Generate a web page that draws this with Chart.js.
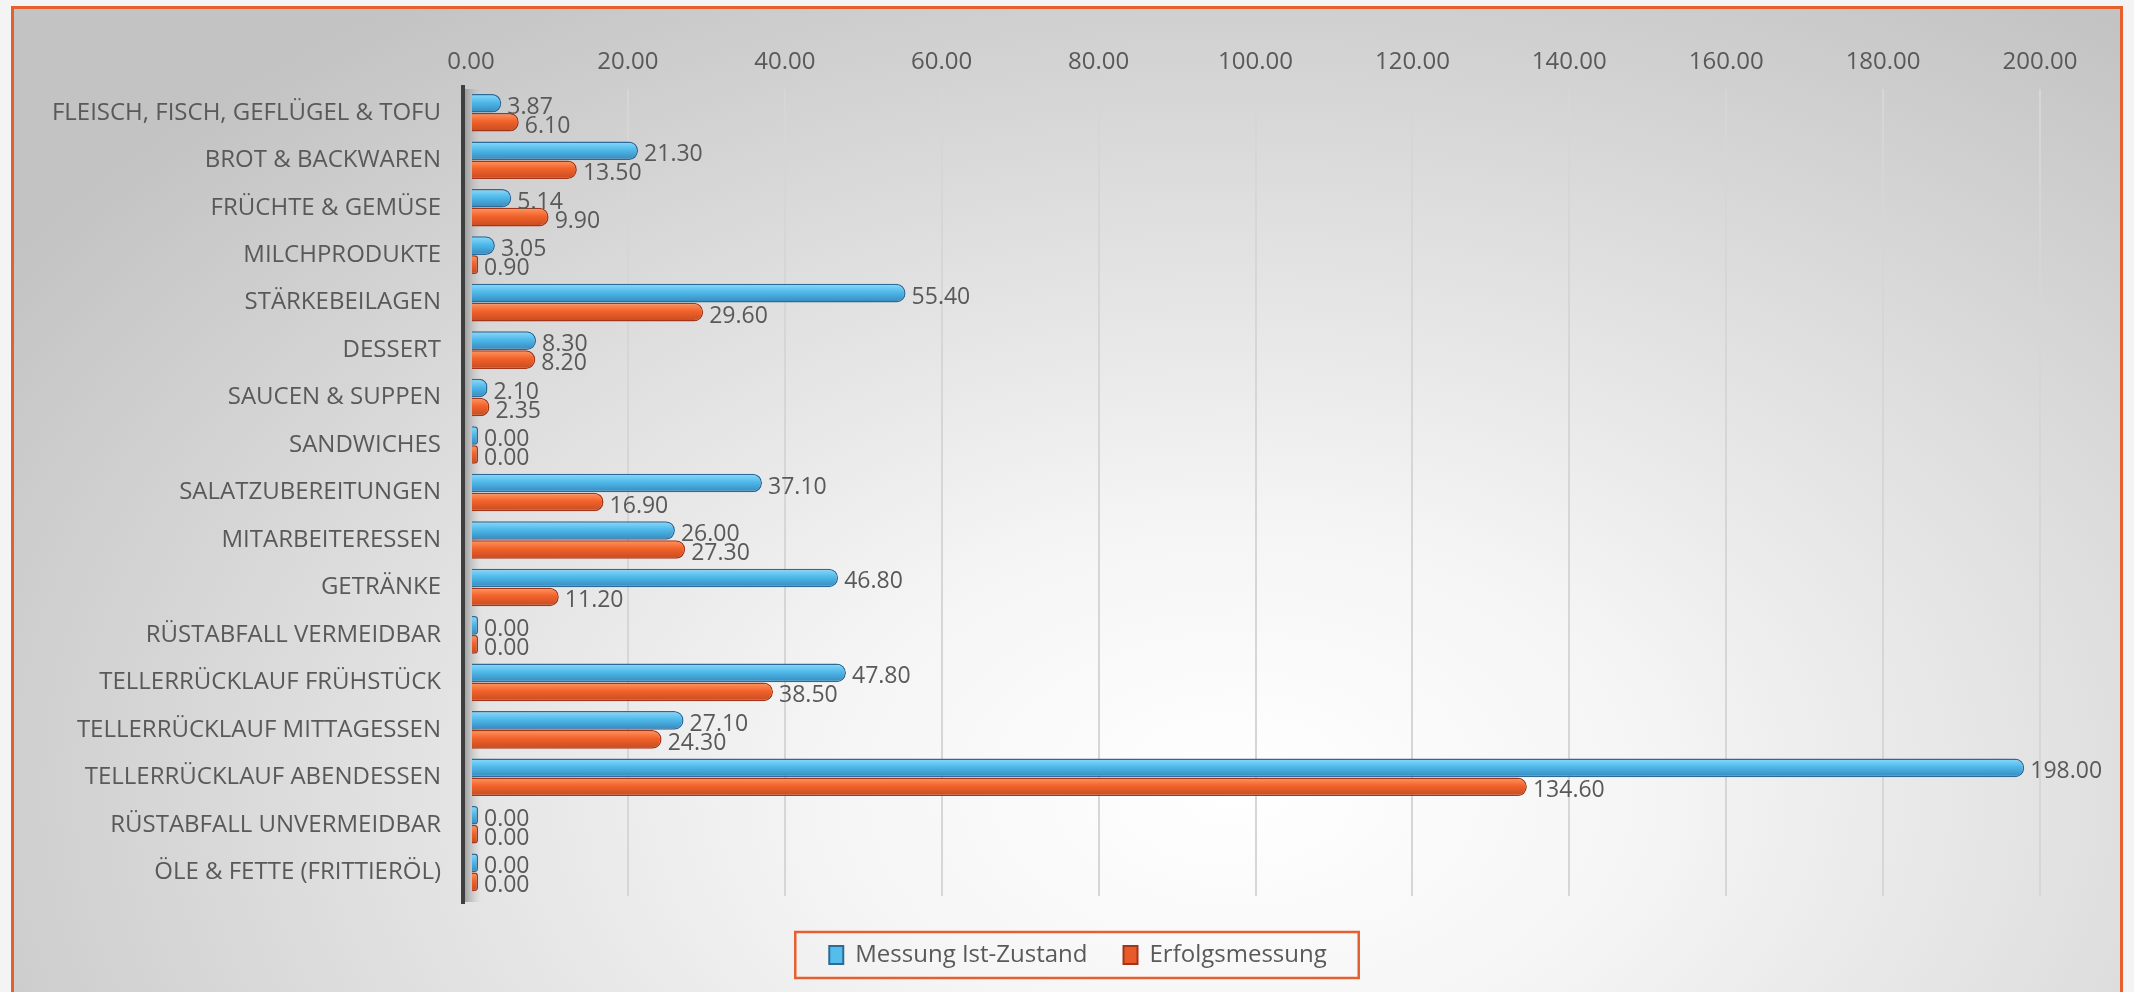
<!DOCTYPE html>
<html lang="de">
<head>
  <meta charset="UTF-8" />
  <title>Messung Ist-Zustand vs. Erfolgsmessung</title>
  <script src="https://cdn.jsdelivr.net/npm/chart.js"></script>
  <style>
    html, body {
      margin: 0;
      padding: 0;
      background: #f4f4f4;
      overflow: hidden;
    }
    #frame {
      position: absolute;
      left: 11px;
      top: 6px;
      width: 2106px;
      height: 1000px;
      border: 3px solid #e5602e;
      background: radial-gradient(ellipse 70% 95% at 58% 78%, #ffffff 0%, #f5f5f5 28%, #dedede 62%, #c3c3c3 100%);
    }
    #wrap {
      position: absolute;
      left: 0;
      top: 0;
      width: 2134px;
      height: 992px;
    }
  </style>
</head>
<body>
  <div id="frame"></div>
  <div id="wrap"><canvas id="wasteChart"></canvas></div>

  <script>
    const categories = [
      'FLEISCH, FISCH, GEFLÜGEL & TOFU',
      'BROT & BACKWAREN',
      'FRÜCHTE & GEMÜSE',
      'MILCHPRODUKTE',
      'STÄRKEBEILAGEN',
      'DESSERT',
      'SAUCEN & SUPPEN',
      'SANDWICHES',
      'SALATZUBEREITUNGEN',
      'MITARBEITERESSEN',
      'GETRÄNKE',
      'RÜSTABFALL VERMEIDBAR',
      'TELLERRÜCKLAUF FRÜHSTÜCK',
      'TELLERRÜCKLAUF MITTAGESSEN',
      'TELLERRÜCKLAUF ABENDESSEN',
      'RÜSTABFALL UNVERMEIDBAR',
      'ÖLE & FETTE (FRITTIERÖL)'
    ];
    const istZustand = [3.87, 21.30, 5.14, 3.05, 55.40, 8.30, 2.10, 0.00, 37.10, 26.00, 46.80, 0.00, 47.80, 27.10, 198.00, 0.00, 0.00];
    const erfolg = [6.10, 13.50, 9.90, 0.90, 29.60, 8.20, 2.35, 0.00, 16.90, 27.30, 11.20, 0.00, 38.50, 24.30, 134.60, 0.00, 0.00];
    const xTicks = [0, 20, 40, 60, 80, 100, 120, 140, 160, 180, 200];

    const textColor = '#595959';
    const fontFamily = '"Open Sans", "DejaVu Sans", sans-serif';
    const catPct = 0.8;

    // cylinder-ish shading for each bar
    function barFill(ctx, colors) {
      const chart = ctx.chart;
      const ys = chart.scales.y;
      if (!ys || !ys.height || ctx.dataIndex === undefined) return colors[1];
      const center = ys.getPixelForValue(ctx.dataIndex);
      const band = ys.height / categories.length * catPct;
      const mid = ctx.datasetIndex === 0 ? center - band / 4 : center + band / 4;
      const g = chart.ctx.createLinearGradient(0, mid - band / 4, 0, mid + band / 4);
      g.addColorStop(0, colors[0]);
      g.addColorStop(0.45, colors[1]);
      g.addColorStop(1, colors[2]);
      return g;
    }

    const wallPlugin = {
      id: 'wall',
      beforeDatasetsDraw(chart) {
        const {ctx, chartArea} = chart;
        const x = chartArea.left - 8;
        ctx.save();
        const g = ctx.createLinearGradient(x, 0, x + 18, 0);
        g.addColorStop(0, 'rgba(140,140,140,0.9)');
        g.addColorStop(1, 'rgba(190,190,190,0)');
        ctx.fillStyle = g;
        ctx.fillRect(x, chartArea.top, 20, chartArea.bottom - chartArea.top + 6);
        ctx.fillStyle = '#3f3f3f';
        ctx.fillRect(x - 2, chartArea.top - 4, 4, chartArea.bottom - chartArea.top + 12);
        ctx.restore();
      }
    };

    const valueLabels = {
      id: 'valueLabels',
      afterDatasetsDraw(chart) {
        const ctx = chart.ctx;
        ctx.save();
        ctx.font = '23px ' + fontFamily;
        ctx.fillStyle = textColor;
        ctx.textAlign = 'left';
        ctx.textBaseline = 'middle';
        chart.data.datasets.forEach((ds, i) => {
          chart.getDatasetMeta(i).data.forEach((bar, j) => {
            ctx.fillText(ds.data[j].toFixed(2), bar.x + 6, bar.y + 4);
          });
        });
        ctx.restore();
      }
    };

    const legendBox = {
      id: 'legendBox',
      afterLayout(chart) {
        const lg = chart.legend;
        lg.top += 11;
        lg.bottom += 11;
        lg.left += 58;
        lg.right += 58;
      },
      afterDraw(chart) {
        const lg = chart.legend;
        if (!lg.legendHitBoxes.length) return;
        const first = lg.legendHitBoxes[0];
        const last = lg.legendHitBoxes[lg.legendHitBoxes.length - 1];
        const ctx = chart.ctx;
        ctx.save();
        ctx.strokeStyle = '#e5602e';
        ctx.lineWidth = 2.5;
        const mid = first.top + first.height / 2;
        ctx.strokeRect(first.left - 34, mid - 23, last.left + last.width - first.left + 66, 46);
        ctx.restore();
      }
    };

    new Chart(document.getElementById('wasteChart'), {
      type: 'bar',
      data: {
        labels: categories,
        datasets: [
          {
            label: 'Messung Ist-Zustand',
            data: istZustand,
            backgroundColor: c => barFill(c, ['#8fdcfb', '#4fb9ea', '#3587bb']),
            borderColor: '#2d6a98',
            borderWidth: 1.5,
            borderRadius: 9,
            borderSkipped: 'start',
            minBarLength: 7,
            categoryPercentage: catPct,
            barPercentage: 0.98
          },
          {
            label: 'Erfolgsmessung',
            data: erfolg,
            backgroundColor: c => barFill(c, ['#ff9a62', '#f2622b', '#c44a20']),
            borderColor: '#a3361a',
            borderWidth: 1.5,
            borderRadius: 9,
            borderSkipped: 'start',
            minBarLength: 7,
            categoryPercentage: catPct,
            barPercentage: 0.98
          }
        ]
      },
      options: {
        indexAxis: 'y',
        responsive: true,
        maintainAspectRatio: false,
        animation: false,
        layout: {
          padding: {left: 0, right: 94, top: 39, bottom: 26}
        },
        scales: {
          x: {
            position: 'top',
            min: 0,
            max: 200,
            afterBuildTicks: axis => {
              axis.ticks = xTicks.map(v => ({value: v}));
            },
            afterFit: axis => { axis.height = 50; },
            border: {display: false},
            grid: {
              color: c => c.index === 0 ? 'rgba(0,0,0,0)' : '#d6d6d6',
              lineWidth: 2,
              drawTicks: false
            },
            ticks: {
              color: textColor,
              padding: 12,
              font: {family: fontFamily, size: 24},
              callback: v => Number(v).toFixed(2)
            }
          },
          y: {
            afterFit: axis => { axis.width = 471; },
            border: {display: false},
            grid: {display: false, drawTicks: false},
            ticks: {
              color: textColor,
              padding: 30,
              font: {family: fontFamily, size: 24}
            }
          }
        },
        plugins: {
          legend: {
            position: 'bottom',
            labels: {
              color: textColor,
              font: {family: fontFamily, size: 24},
              boxWidth: 14,
              boxHeight: 18,
              padding: 36,
              generateLabels: chart => chart.data.datasets.map((ds, i) => ({
                text: ds.label,
                fillStyle: i === 0 ? '#54bdec' : '#e85a28',
                strokeStyle: i === 0 ? '#2d6a98' : '#a3361a',
                lineWidth: 2,
                fontColor: textColor,
                datasetIndex: i
              }))
            }
          },
          tooltip: {enabled: false}
        }
      },
      plugins: [wallPlugin, valueLabels, legendBox]
    });
  </script>
</body>
</html>
